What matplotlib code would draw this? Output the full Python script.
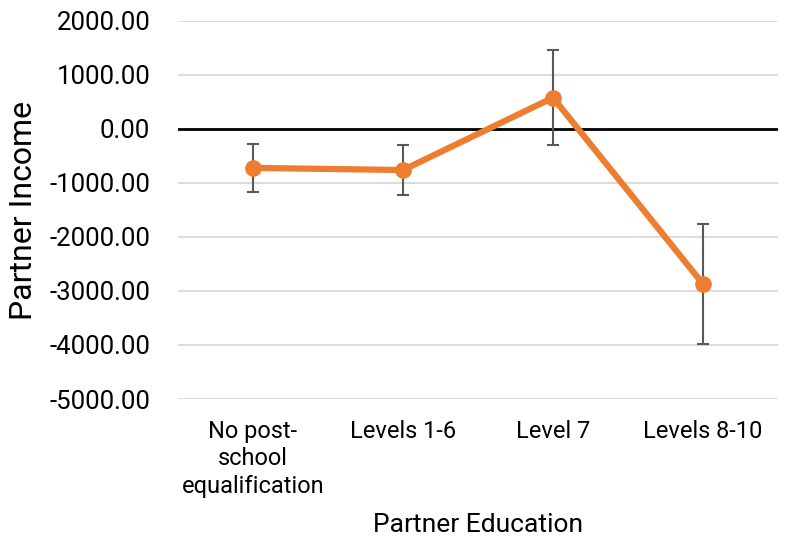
import matplotlib.pyplot as plt
import numpy as np

plt.rcParams['font.family'] = ['Roboto', 'DejaVu Sans']

categories = ['No post-\nschool\nequalification', 'Levels 1-6', 'Level 7', 'Levels 8-10']
income = [-720, -760, 580, -2870]
income_err = [440, 455, 875, 1110]
y_ticks = [2000, 1000, 0, -1000, -2000, -3000, -4000, -5000]

fig = plt.figure(figsize=(7.87, 5.48), dpi=100)
ax = fig.add_axes([178 / 787, 1 - 399 / 548, 600 / 787, 378 / 548])

x = np.arange(len(categories))
ax.set_xlim(-0.5, len(categories) - 0.5)
ax.set_ylim(-5000, 2000)
ax.set_yticks(y_ticks)
ax.set_yticklabels([f'{v:.2f}' for v in y_ticks], fontsize=18.5)
ax.set_xticks(x)
ax.set_xticklabels(categories, fontsize=17, linespacing=1.25)
ax.tick_params(axis='y', length=0, pad=20)
ax.tick_params(axis='x', length=0, pad=15)

for v in y_ticks:
  if v != 0:
    ax.axhline(v, color='#d9d9d9', lw=1.3, zorder=0)
ax.axhline(0, color='black', lw=2, zorder=1)
for spine in ax.spines.values():
  spine.set_visible(False)

ax.errorbar(x, income, yerr=income_err, fmt='none', ecolor='#595959',
            elinewidth=1.5, capsize=4.5, capthick=1.5, zorder=2)
ax.plot(x, income, color='#ed7d31', lw=4.5, marker='o', markersize=11,
        solid_capstyle='round', zorder=3)

ax.set_ylabel('Partner Income', fontsize=23, labelpad=8)
ax.set_xlabel('Partner Education', fontsize=19, labelpad=11)

fig.savefig('out.png', dpi=100)
